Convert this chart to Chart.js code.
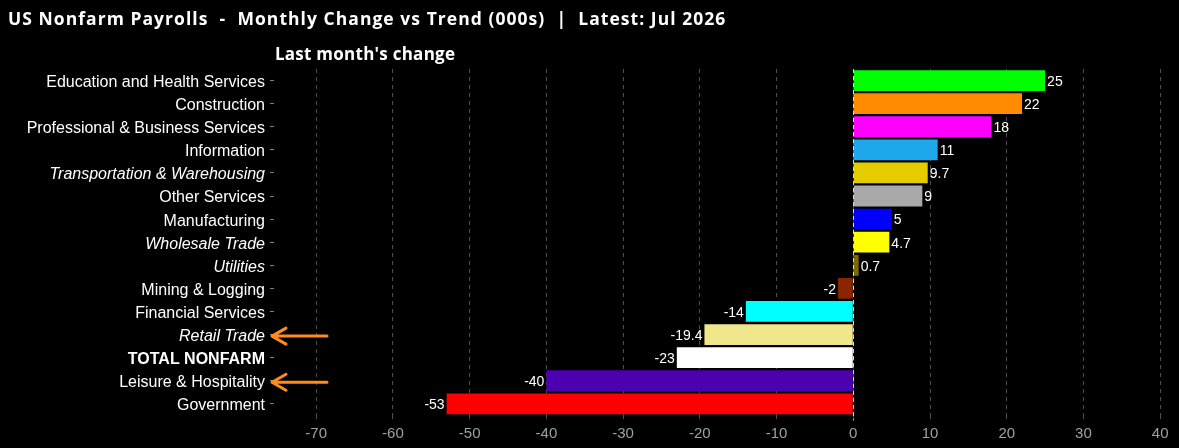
<!DOCTYPE html>
<html>
<head>
<meta charset="utf-8">
<script src="https://cdn.jsdelivr.net/npm/chart.js@4.4.1/dist/chart.umd.min.js"></script>
<style>
  html, body { margin: 0; padding: 0; background: #000; }
  #wrap { width: 1179px; height: 448px; position: relative; }
</style>
</head>
<body>
<div id="wrap"><canvas id="nfpChart"></canvas></div>
<script>
// Last month's change by sector (000s)
const categories = [
    'Education and Health Services', 'Construction', 'Professional & Business Services',
    'Information', 'Transportation & Warehousing', 'Other Services', 'Manufacturing',
    'Wholesale Trade', 'Utilities', 'Mining & Logging', 'Financial Services',
    'Retail Trade', 'TOTAL NONFARM', 'Leisure & Hospitality', 'Government'
];
const changes = [25, 22, 18, 11, 9.7, 9, 5, 4.7, 0.7, -2, -14, -19.4, -23, -40, -53];
const xTicks = [-70, -60, -50, -40, -30, -20, -10, 0, 10, 20, 30, 40];

const barColors = [
    '#00ff00', '#ff8c00', '#ff00ff', '#1ca8ea', '#e5cc00', '#a9a9a9', '#0000ff',
    '#ffff00', '#7d6b00', '#8b2500', '#00ffff', '#f0e68c', '#ffffff', '#4c00b0', '#ff0000'
];
const italicRows = ['Transportation & Warehousing', 'Wholesale Trade', 'Utilities', 'Retail Trade'];
const boldRows = ['TOTAL NONFARM'];
const arrowRows = ['Retail Trade', 'Leisure & Hospitality'];

const TITLE = 'US Nonfarm Payrolls  -  Monthly Change vs Trend (000s)  |  Latest: Jul 2026';
const SUBTITLE = "Last month's change";
const LABEL_FONT = '"Liberation Sans", Arial, sans-serif';
const HEAD_FONT = '"Open Sans", "DejaVu Sans", sans-serif';

// draw bold text at a given size, spreading letters so it spans the target width
function spreadText(c, text, x, y, size, width) {
    c.font = `bold ${size}px ${HEAD_FONT}`;
    const w = c.measureText(text).width;
    if ('letterSpacing' in c && w < width) {
        c.letterSpacing = ((width - w) / (text.length - 1)).toFixed(2) + 'px';
    }
    c.fillText(text, x, y);
    if ('letterSpacing' in c) c.letterSpacing = '0px';
}

const decorPlugin = {
    id: 'decor',
    beforeDraw(chart) {
        const c = chart.ctx;
        c.save();
        c.fillStyle = '#000';
        c.fillRect(0, 0, chart.width, chart.height);
        c.restore();
    },
    afterDatasetsDraw(chart) {
        const c = chart.ctx;
        const x = chart.scales.x;
        const area = chart.chartArea;
        // dashed zero line sits on top of the bars
        const zx = Math.round(x.getPixelForValue(0)) + 0.5;
        c.save();
        c.strokeStyle = '#d8d8d8';
        c.lineWidth = 1;
        c.setLineDash([4, 3]);
        c.beginPath();
        c.moveTo(zx, area.top);
        c.lineTo(zx, area.bottom + 5);
        c.stroke();
        c.setLineDash([]);

        // value labels
        const meta = chart.getDatasetMeta(0);
        c.fillStyle = '#ffffff';
        c.font = `14px ${LABEL_FONT}`;
        c.textBaseline = 'middle';
        meta.data.forEach((bar, i) => {
            const v = changes[i];
            if (v >= 0) {
                c.textAlign = 'left';
                c.fillText(String(v), bar.x + 2, bar.y + 1.5);
            } else {
                c.textAlign = 'right';
                c.fillText(String(v), bar.x - 2, bar.y + 1.5);
            }
        });
        c.restore();
    },
    afterDraw(chart) {
        const c = chart.ctx;
        const area = chart.chartArea;
        const y = chart.scales.y;
        c.save();
        // titles
        c.fillStyle = '#ffffff';
        c.textAlign = 'left';
        c.textBaseline = 'alphabetic';
        spreadText(c, TITLE, 8, 25, 17.5, 717);
        spreadText(c, SUBTITLE, area.left + 1, 60, 17, 180);

        // arrows pointing at highlighted rows
        c.strokeStyle = '#ff8c1a';
        c.lineWidth = 3;
        c.lineCap = 'round';
        c.lineJoin = 'round';
        arrowRows.forEach(name => {
            const py = y.getPixelForValue(categories.indexOf(name)) + 1.5;
            const tip = area.left - 2;
            c.beginPath();
            c.moveTo(area.left + 53, py);
            c.lineTo(tip, py);
            c.moveTo(tip + 14, py - 8);
            c.lineTo(tip, py);
            c.lineTo(tip + 14, py + 8);
            c.stroke();
        });
        c.restore();
    }
};

const ctx = document.getElementById('nfpChart').getContext('2d');
const nfpChart = new Chart(ctx, {
    type: 'bar',
    data: {
        labels: categories,
        datasets: [{
            data: changes,
            backgroundColor: barColors,
            borderWidth: 0,
            barPercentage: 1,
            categoryPercentage: 0.9
        }]
    },
    options: {
        indexAxis: 'y',
        responsive: true,
        maintainAspectRatio: false,
        animation: false,
        layout: { padding: { top: 69, right: 5, left: 0, bottom: 0 } },
        plugins: {
            legend: { display: false },
            tooltip: { enabled: false }
        },
        scales: {
            x: {
                min: -75.5,
                max: 41.8,
                afterBuildTicks: axis => { axis.ticks = xTicks.map(v => ({ value: v })); },
                afterFit: axis => { axis.height = 32.6; },
                grid: {
                    color: '#505050',
                    lineWidth: 1,
                    drawTicks: true,
                    tickLength: 5,
                    tickColor: '#505050',
                    tickBorderDash: [4, 4]
                },
                border: { display: false, dash: [4, 4] },
                ticks: {
                    color: '#a0a0a0',
                    padding: 4,
                    font: { family: LABEL_FONT, size: 15 }
                }
            },
            y: {
                afterFit: axis => { axis.width = 274; },
                grid: {
                    display: true,
                    drawOnChartArea: false,
                    offset: false,
                    drawTicks: true,
                    tickLength: 4,
                    tickColor: '#808080'
                },
                border: { display: false },
                ticks: {
                    color: '#ffffff',
                    padding: 5,
                    labelOffset: 2,
                    autoSkip: false,
                    font: (c) => {
                        const name = categories[c.index];
                        return {
                            family: LABEL_FONT,
                            size: 16,
                            style: italicRows.includes(name) ? 'italic' : 'normal',
                            weight: boldRows.includes(name) ? 'bold' : 'normal'
                        };
                    }
                }
            }
        }
    },
    plugins: [decorPlugin]
});
</script>
</body>
</html>
